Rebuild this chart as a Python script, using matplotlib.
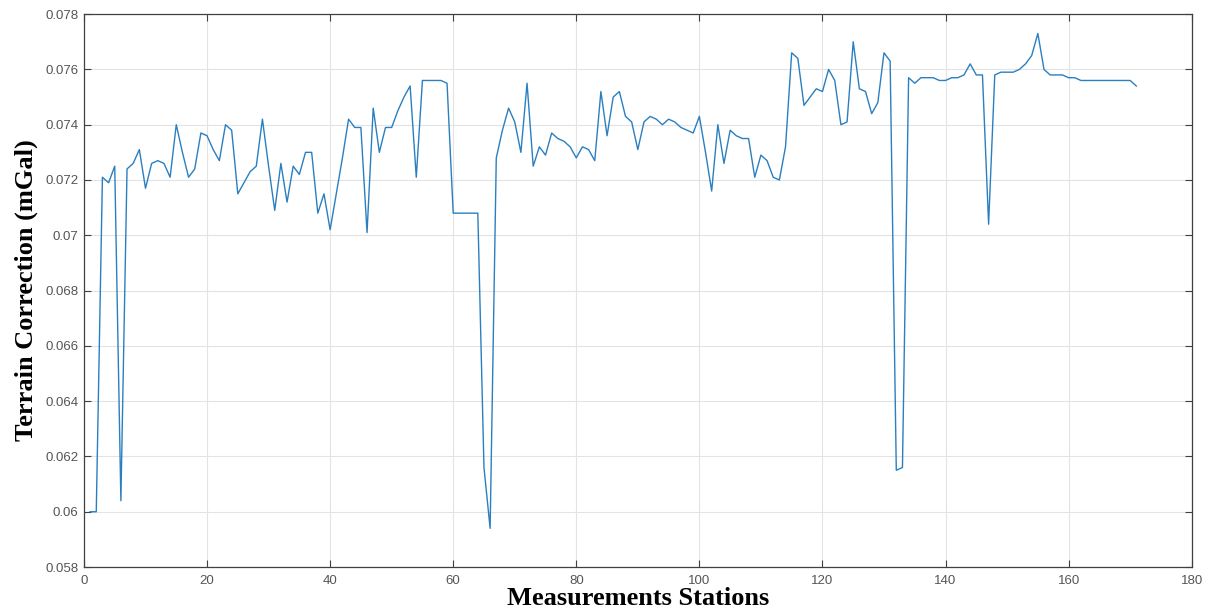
import matplotlib.pyplot as plt
import numpy as np
from matplotlib.ticker import FuncFormatter

# terrain correction per station (mGal)
stations = np.arange(1, 172)
tc = [
    0.0600, 0.0600, 0.0721, 0.0719, 0.0725, 0.0604, 0.0724, 0.0726, 0.0731, 0.0717,
    0.0726, 0.0727, 0.0726, 0.0721, 0.0740, 0.0730, 0.0721, 0.0724, 0.0737, 0.0736,
    0.0731, 0.0727, 0.0740, 0.0738, 0.0715, 0.0719, 0.0723, 0.0725, 0.0742, 0.0725,
    0.0709, 0.0726, 0.0712, 0.0725, 0.0722, 0.0730, 0.0730, 0.0708, 0.0715, 0.0702,
    0.0715, 0.0728, 0.0742, 0.0739, 0.0739, 0.0701, 0.0746, 0.0730, 0.0739, 0.0739,
    0.0745, 0.0750, 0.0754, 0.0721, 0.0756, 0.0756, 0.0756, 0.0756, 0.0755, 0.0708,
    0.0708, 0.0708, 0.0708, 0.0708, 0.0616, 0.0594, 0.0728, 0.0738, 0.0746, 0.0741,
    0.0730, 0.0755, 0.0725, 0.0732, 0.0729, 0.0737, 0.0735, 0.0734, 0.0732, 0.0728,
    0.0732, 0.0731, 0.0727, 0.0752, 0.0736, 0.0750, 0.0752, 0.0743, 0.0741, 0.0731,
    0.0741, 0.0743, 0.0742, 0.0740, 0.0742, 0.0741, 0.0739, 0.0738, 0.0737, 0.0743,
    0.0730, 0.0716, 0.0740, 0.0726, 0.0738, 0.0736, 0.0735, 0.0735, 0.0721, 0.0729,
    0.0727, 0.0721, 0.0720, 0.0732, 0.0766, 0.0764, 0.0747, 0.0750, 0.0753, 0.0752,
    0.0760, 0.0756, 0.0740, 0.0741, 0.0770, 0.0753, 0.0752, 0.0744, 0.0748, 0.0766,
    0.0763, 0.0615, 0.0616, 0.0757, 0.0755, 0.0757, 0.0757, 0.0757, 0.0756, 0.0756,
    0.0757, 0.0757, 0.0758, 0.0762, 0.0758, 0.0758, 0.0704, 0.0758, 0.0759, 0.0759,
    0.0759, 0.0760, 0.0762, 0.0765, 0.0773, 0.0760, 0.0758, 0.0758, 0.0758, 0.0757,
    0.0757, 0.0756, 0.0756, 0.0756, 0.0756, 0.0756, 0.0756, 0.0756, 0.0756, 0.0756,
    0.0754,
]

xticks = np.arange(0, 181, 20)
yticks = np.arange(0.058, 0.0781, 0.002)

fig = plt.figure(figsize=(12.08, 6.14), dpi=100)
ax = fig.add_axes([0.0695, 0.0765, 0.917, 0.9005])

ax.plot(stations, tc, color='#2a7fc0', linewidth=1.0)

ax.set_xlim(0, 180)
ax.set_ylim(0.058, 0.078)
ax.set_xticks(xticks)
ax.set_yticks(yticks)
ax.yaxis.set_major_formatter(FuncFormatter(lambda v, p: '%g' % round(v, 3)))

# matlab-like box and grid
axcol = '#404040'
for s in ax.spines.values():
    s.set_color(axcol)
    s.set_linewidth(0.9)
ax.tick_params(direction='in', top=True, right=True, length=5, width=0.8,
               colors=axcol, labelsize=9.5, labelcolor='#555555')
ax.tick_params(axis='x', pad=6)
ax.tick_params(axis='y', pad=4)
ax.grid(True, color='#e3e3e3', linewidth=0.8)
ax.set_axisbelow(True)
for t in ax.get_xticklabels() + ax.get_yticklabels():
    t.set_family('Liberation Sans')

lab = dict(family='Liberation Serif', weight='bold', size=19, color='black')
ax.set_xlabel('Measurements Stations', labelpad=0, **lab)
ax.set_ylabel('Terrain Correction (mGal)', labelpad=5, **lab)

fig.savefig('out.png', dpi=100)
